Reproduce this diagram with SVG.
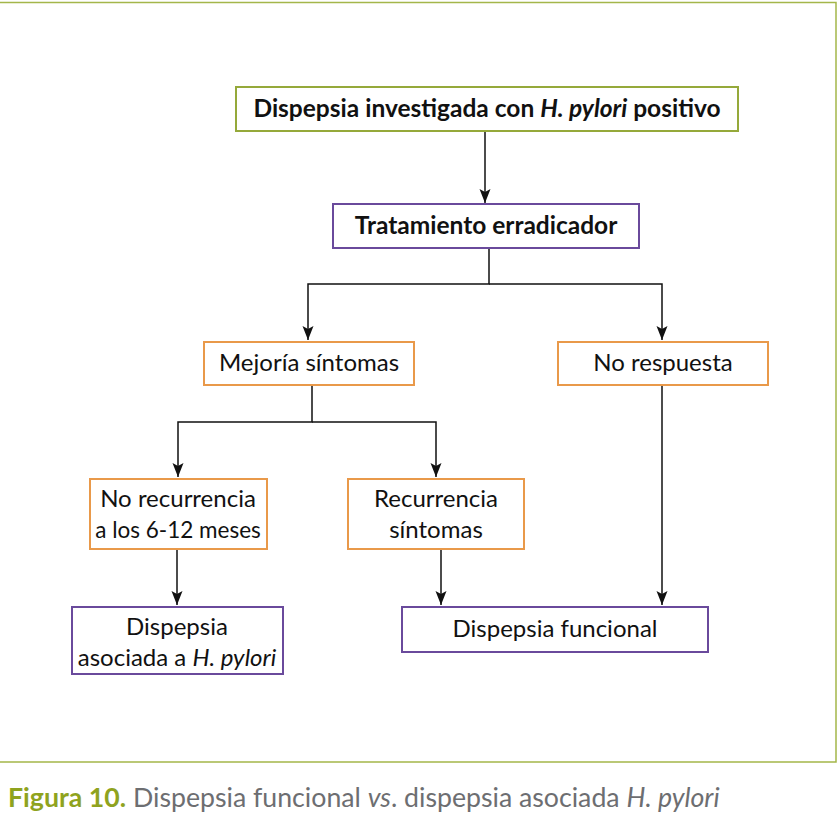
<svg xmlns="http://www.w3.org/2000/svg" width="838" height="822" viewBox="0 0 838 822">
<style>
.frame{fill:none;stroke:#a4b64a;stroke-width:1.5}
.g{fill:#fff;stroke:#95a93a;stroke-width:2}
.p{fill:#fff;stroke:#6a4a9c;stroke-width:2}
.o{fill:#fff;stroke:#e9994a;stroke-width:2}
.t{font-family:Lato,"Open Sans",sans-serif;font-size:24px;fill:#111;text-anchor:middle}
.b{font-weight:bold;font-size:24.5px}
.c{fill:none;stroke:#111;stroke-width:1.5}
.cap{font-family:Lato,"Open Sans",sans-serif;font-size:26.7px;fill:#6d6e71}
</style>
<defs>
<marker id="ah" markerUnits="userSpaceOnUse" markerWidth="15" markerHeight="12" refX="14" refY="5.5" orient="auto" viewBox="0 0 15 11">
<path d="M0,0 L14,5.5 L0,11 L3,5.5 z" fill="#111"/>
</marker>
</defs>
<path class="frame" d="M0,2.5 H836 V762 H0"/>
<g id="connectors">
<path class="c" d="M485,131 V203" marker-end="url(#ah)"/>
<path class="c" d="M489,248 V284 H308 V340" marker-end="url(#ah)"/>
<path class="c" d="M489,284 H662 V340" marker-end="url(#ah)"/>
<path class="c" d="M312,386 V422 H178 V477" marker-end="url(#ah)"/>
<path class="c" d="M312,422 H436 V477" marker-end="url(#ah)"/>
<path class="c" d="M662,386 V605" marker-end="url(#ah)"/>
<path class="c" d="M177,549 V605" marker-end="url(#ah)"/>
<path class="c" d="M441,549 V605" marker-end="url(#ah)"/>
</g>
<g id="n1"><rect class="g" x="236" y="87" width="502" height="44"/>
<text class="t b" x="487" y="117">Dispepsia investigada con <tspan font-style="italic">H. pylori</tspan> positivo</text></g>
<g id="n2"><rect class="p" x="333" y="204" width="306" height="44"/>
<text class="t b" x="486" y="234">Tratamiento erradicador</text></g>
<g id="n3"><rect class="o" x="204" y="342" width="210" height="43"/>
<text class="t" x="309" y="371">Mejoría síntomas</text></g>
<g id="n4"><rect class="o" x="558" y="342" width="210" height="43"/>
<text class="t" x="663" y="371">No respuesta</text></g>
<g id="n5"><rect class="o" x="90" y="479" width="177" height="70"/>
<text class="t" x="178" y="507">No recurrencia</text><text class="t" x="178" y="538" style="font-size:22.5px">a los 6-12 meses</text></g>
<g id="n6"><rect class="o" x="348" y="479" width="176" height="70"/>
<text class="t" x="436" y="507">Recurrencia</text><text class="t" x="436" y="538">síntomas</text></g>
<g id="n7"><rect class="p" x="72" y="607" width="211" height="67"/>
<text class="t" x="177" y="635">Dispepsia</text><text class="t" x="177" y="666">asociada a <tspan font-style="italic">H. pylori</tspan></text></g>
<g id="n8"><rect class="p" x="402" y="607" width="306" height="45"/>
<text class="t" x="555" y="637">Dispepsia funcional</text></g>
<text class="cap" x="8" y="807"><tspan fill="#8fa31e" font-weight="bold">Figura 10.</tspan> Dispepsia funcional <tspan font-style="italic">vs</tspan>. dispepsia asociada <tspan font-style="italic">H. pylori</tspan></text>
</svg>
